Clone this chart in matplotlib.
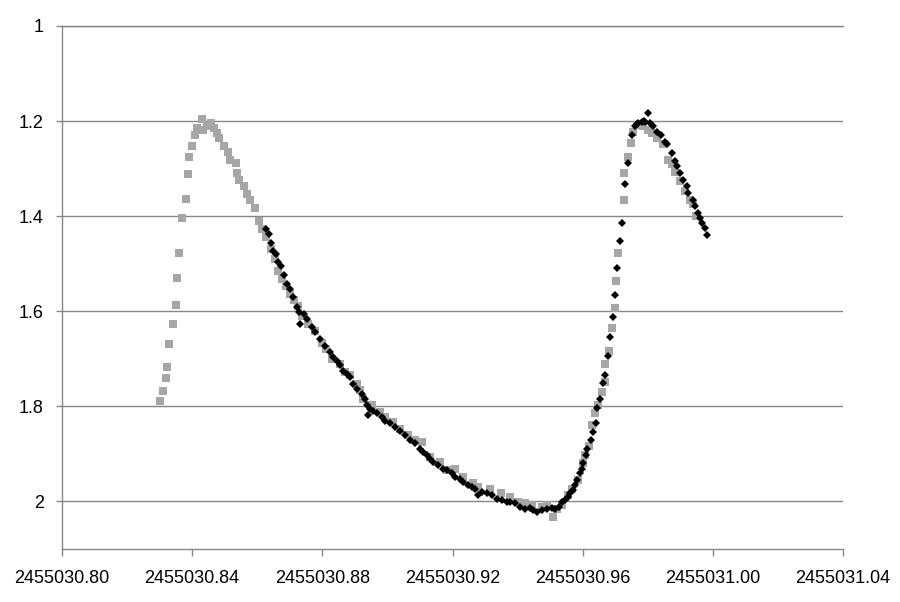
# encoding: utf-8

import matplotlib
matplotlib.use("Agg")
import matplotlib.pyplot as plt
from matplotlib.ticker import FuncFormatter

JD0 = 2455030

# series 1 (grey squares): time = JD0 + frac, magnitude
grey_frac = [0.8300, 0.8309, 0.8321, 0.8323, 0.8330, 0.8340, 0.8349, 0.8352, 0.8360, 0.8369,
             0.8381, 0.8388, 0.8390, 0.8400, 0.8409, 0.8416, 0.8429, 0.8434, 0.8445, 0.8458,
             0.8466, 0.8475, 0.8483, 0.8498, 0.8509, 0.8516, 0.8534, 0.8539, 0.8545, 0.8559,
             0.8568, 0.8578, 0.8593, 0.8606, 0.8614, 0.8627, 0.8642, 0.8655, 0.8665, 0.8675,
             0.8688, 0.8701, 0.8713, 0.8726, 0.8738, 0.8757, 0.8777, 0.8799, 0.8811, 0.8829,
             0.8854, 0.8870, 0.8885, 0.8906, 0.8916, 0.8926, 0.8952, 0.8977, 0.8993, 0.9018,
             0.9039, 0.9063, 0.9085, 0.9105, 0.9131, 0.9162, 0.9182, 0.9208, 0.9233, 0.9264,
             0.9279, 0.9315, 0.9349, 0.9377, 0.9402, 0.9423, 0.9443, 0.9474, 0.9490, 0.9510,
             0.9521, 0.9536, 0.9556, 0.9566, 0.9587, 0.9600, 0.9607, 0.9620, 0.9630, 0.9638,
             0.9648, 0.9660, 0.9669, 0.9670, 0.9680, 0.9689, 0.9699, 0.9701, 0.9710, 0.9726,
             0.9728, 0.9738, 0.9749, 0.9756, 0.9771, 0.9786, 0.9802, 0.9813, 0.9828, 0.9848,
             0.9863, 0.9875, 0.9884, 0.9899, 0.9914, 0.9930, 0.9939, 0.9948]
grey_mag = [1.788, 1.767, 1.740, 1.717, 1.668, 1.627, 1.587, 1.530, 1.478, 1.403,
            1.363, 1.311, 1.276, 1.252, 1.229, 1.214, 1.195, 1.218, 1.211, 1.203,
            1.214, 1.225, 1.235, 1.253, 1.266, 1.281, 1.288, 1.309, 1.323, 1.337,
            1.354, 1.365, 1.382, 1.410, 1.428, 1.444, 1.470, 1.491, 1.515, 1.532,
            1.547, 1.564, 1.577, 1.588, 1.610, 1.627, 1.641, 1.667, 1.679, 1.700,
            1.711, 1.728, 1.735, 1.753, 1.765, 1.784, 1.798, 1.812, 1.822, 1.833,
            1.847, 1.860, 1.870, 1.875, 1.906, 1.917, 1.934, 1.932, 1.948, 1.962,
            1.969, 1.973, 1.982, 1.990, 2.001, 2.004, 2.008, 2.011, 2.008, 2.032,
            2.015, 2.008, 1.987, 1.973, 1.955, 1.920, 1.903, 1.884, 1.839, 1.815,
            1.798, 1.769, 1.749, 1.711, 1.683, 1.636, 1.594, 1.537, 1.478, 1.365,
            1.310, 1.275, 1.246, 1.222, 1.208, 1.210, 1.218, 1.226, 1.235, 1.249,
            1.281, 1.291, 1.308, 1.326, 1.347, 1.365, 1.375, 1.400]

# series 2 (black diamonds)
black_frac = [0.8626, 0.8636, 0.8642, 0.8649, 0.8657, 0.8665, 0.8673, 0.8683, 0.8691, 0.8701,
              0.8711, 0.8721, 0.8728, 0.8731, 0.8745, 0.8752, 0.8767, 0.8777, 0.8793, 0.8808,
              0.8824, 0.8834, 0.8844, 0.8854, 0.8864, 0.8875, 0.8885, 0.8895, 0.8906, 0.8921,
              0.8931, 0.8936, 0.8941, 0.8947, 0.8957, 0.8967, 0.8982, 0.8993, 0.9008, 0.9023,
              0.9039, 0.9054, 0.9069, 0.9085, 0.9100, 0.9110, 0.9121, 0.9131, 0.9141, 0.9156,
              0.9172, 0.9182, 0.9198, 0.9208, 0.9223, 0.9233, 0.9249, 0.9259, 0.9269, 0.9279,
              0.9290, 0.9305, 0.9320, 0.9336, 0.9351, 0.9367, 0.9377, 0.9392, 0.9407, 0.9423,
              0.9438, 0.9448, 0.9459, 0.9474, 0.9489, 0.9505, 0.9515, 0.9528, 0.9536, 0.9546,
              0.9556, 0.9561, 0.9569, 0.9576, 0.9584, 0.9592, 0.9597, 0.9602, 0.9610, 0.9614,
              0.9625, 0.9631, 0.9640, 0.9645, 0.9653, 0.9663, 0.9670, 0.9679, 0.9684, 0.9692,
              0.9699, 0.9706, 0.9715, 0.9720, 0.9730, 0.9740, 0.9751, 0.9761, 0.9766, 0.9771,
              0.9781, 0.9788, 0.9792, 0.9800, 0.9807, 0.9817, 0.9829, 0.9840, 0.9853, 0.9860,
              0.9874, 0.9884, 0.9889, 0.9899, 0.9909, 0.9920, 0.9925, 0.9940, 0.9945, 0.9955,
              0.9961, 0.9966, 0.9976, 0.9981]
black_mag = [1.428, 1.437, 1.456, 1.473, 1.480, 1.497, 1.505, 1.524, 1.543, 1.553,
             1.571, 1.592, 1.602, 1.627, 1.606, 1.616, 1.634, 1.644, 1.658, 1.673,
             1.686, 1.697, 1.704, 1.714, 1.725, 1.732, 1.739, 1.753, 1.763, 1.774,
             1.784, 1.798, 1.819, 1.805, 1.809, 1.815, 1.822, 1.830, 1.836, 1.843,
             1.851, 1.860, 1.870, 1.878, 1.889, 1.896, 1.903, 1.910, 1.917, 1.924,
             1.931, 1.934, 1.941, 1.948, 1.952, 1.959, 1.966, 1.969, 1.973, 1.987,
             1.980, 1.983, 1.987, 1.994, 1.997, 2.001, 2.002, 2.004, 2.011, 2.015,
             2.013, 2.018, 2.022, 2.018, 2.015, 2.014, 2.015, 2.011, 2.001, 1.997,
             1.990, 1.983, 1.976, 1.966, 1.955, 1.941, 1.931, 1.920, 1.903, 1.889,
             1.871, 1.853, 1.834, 1.804, 1.784, 1.751, 1.734, 1.695, 1.655, 1.613,
             1.566, 1.509, 1.452, 1.415, 1.333, 1.288, 1.229, 1.211, 1.207, 1.203,
             1.201, 1.200, 1.202, 1.184, 1.204, 1.210, 1.222, 1.229, 1.243, 1.249,
             1.267, 1.284, 1.295, 1.309, 1.323, 1.337, 1.351, 1.365, 1.379, 1.393,
             1.403, 1.414, 1.424, 1.440]

x_ticks = [2455030.80, 2455030.84, 2455030.88, 2455030.92, 2455030.96, 2455031.00, 2455031.04]
y_ticks = [1.0, 1.2, 1.4, 1.6, 1.8, 2.0]
y_labels = ["1", "1.2", "1.4", "1.6", "1.8", "2"]

plt.rcParams['font.family'] = ['Liberation Sans', 'DejaVu Sans']

fig = plt.figure(figsize=(9, 6.02), dpi=100)
ax = fig.add_axes([62 / 900, 1 - 549 / 602, (843 - 62) / 900, (549 - 26) / 602])

gx = [JD0 + f for f in grey_frac]
bx = [JD0 + f for f in black_frac]
ax.plot(gx, grey_mag, linestyle='none', marker='s', ms=5.6, mew=0, color='#a6a6a6', zorder=3)
ax.plot(bx, black_mag, linestyle='none', marker='D', ms=3.8, mew=0, color='black', zorder=4)

ax.set_xlim(x_ticks[0], x_ticks[-1])
ax.set_ylim(2.1, 1.0)
ax.set_xticks(x_ticks)
ax.xaxis.set_major_formatter(FuncFormatter(lambda v, p: "%.2f" % v))
ax.set_yticks(y_ticks)
ax.set_yticklabels(y_labels)

ax.grid(axis='y', color='#868686', linewidth=1.0)
ax.set_axisbelow(True)
ax.spines['right'].set_visible(False)
for side in ['left', 'bottom', 'top']:
    ax.spines[side].set_color('#868686')
    ax.spines[side].set_linewidth(1.0)

ax.tick_params(axis='both', colors='#868686', labelcolor='black', labelsize=13, width=1.0)
ax.tick_params(axis='x', length=5, pad=10)
ax.tick_params(axis='y', length=4, pad=9)

fig.savefig('out.png', dpi=100)
